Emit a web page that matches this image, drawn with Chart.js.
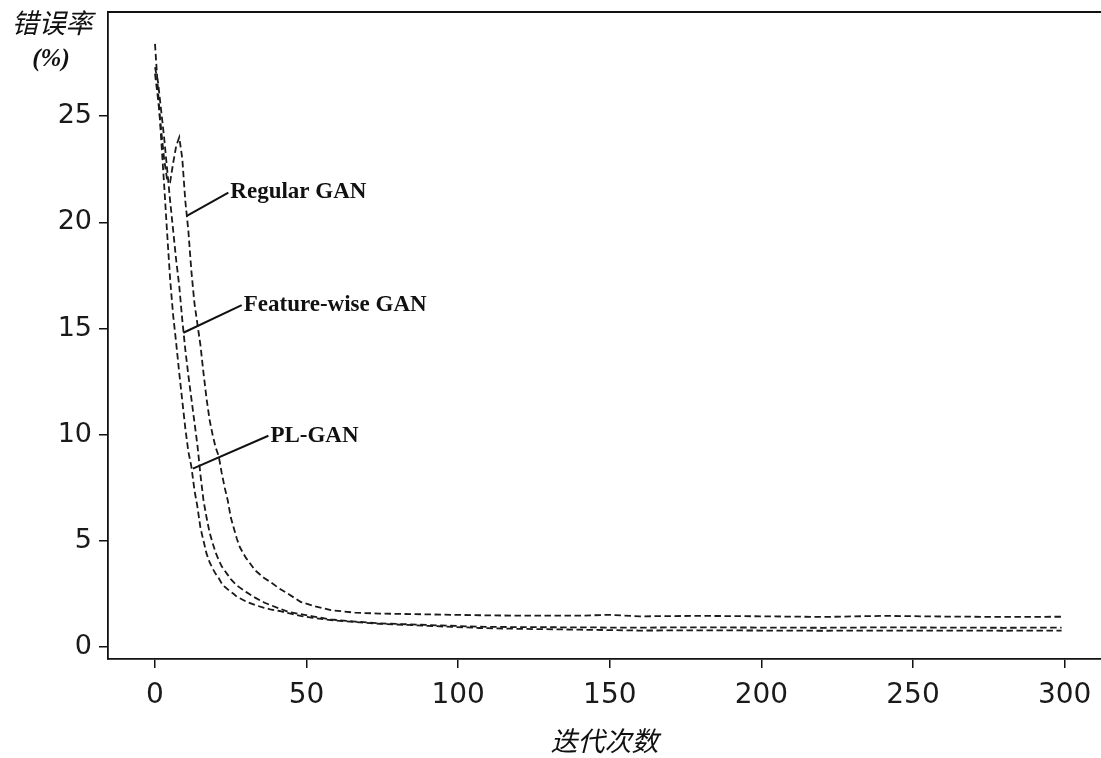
<!DOCTYPE html>
<html>
<head>
<meta charset="utf-8">
<script src="https://cdn.jsdelivr.net/npm/chart.js@4"></script>
<style>
  html, body { margin: 0; padding: 0; background: #fff; overflow: hidden; }
  canvas { display: block; }
</style>
</head>
<body>
<canvas id="chart" width="1101" height="758"></canvas>
<script>
// iterations (x) shared by all three curves
const iterations = [0,1,2,3,4,5,6,7,8,9,10,11,12,13,14,15,16,17,18,19,20,21,22,23,24,25,26,27,28,30,33,36,38,41,44,48,52,58,66,74,90,107,120,140,150,160,180,200,220,240,260,280,299];

const regularGan = [27.0,25.8,24.4,23.0,22.0,21.9,22.8,23.6,24.0,23.0,21.0,19.6,17.7,16.2,15.2,14.2,12.9,11.7,10.7,10.0,9.4,9.0,8.2,7.5,6.9,6.1,5.6,5.1,4.7,4.2,3.62,3.25,3.07,2.76,2.5,2.13,1.95,1.74,1.62,1.58,1.54,1.5,1.48,1.48,1.52,1.45,1.47,1.45,1.42,1.47,1.44,1.42,1.43];

const featureGan = [27.3,26.6,25.3,24.0,22.5,21.0,19.6,18.2,17.0,15.4,14.0,12.8,11.7,10.6,9.5,8.1,6.9,6.1,5.4,4.9,4.45,4.1,3.8,3.6,3.4,3.2,3.05,2.9,2.8,2.6,2.33,2.1,1.98,1.82,1.66,1.55,1.45,1.3,1.2,1.12,1.04,0.96,0.94,0.93,0.92,0.92,0.93,0.92,0.91,0.93,0.92,0.91,0.92];

const plGan = [28.4,26.2,24.0,21.8,19.5,17.3,15.6,14.3,12.9,11.6,10.3,9.2,8.5,7.4,6.6,5.6,5.0,4.4,4.0,3.7,3.45,3.25,3.0,2.84,2.72,2.6,2.5,2.37,2.3,2.15,1.98,1.85,1.78,1.7,1.6,1.47,1.38,1.27,1.18,1.1,1.0,0.9,0.86,0.82,0.8,0.78,0.79,0.78,0.77,0.78,0.78,0.77,0.78];

const xTicks = [0, 50, 100, 150, 200, 250, 300];
const yTicks = [0, 5, 10, 15, 20, 25];

// curve labels with leader lines, in data units
const annoLabels = ['Regular GAN', 'Feature-wise GAN', 'PL-GAN'];
const annoTextX = [24.2, 28.6, 37.4];
const annoTextY = [21.4, 16.1, 9.95];
const annoTipX = [10.5, 9.35, 12.5];
const annoTipY = [20.3, 14.8, 8.4];

const pts = vals => iterations.map((x, i) => ({ x, y: vals[i] }));

const lineStyle = {
  borderColor: '#1a1a1a',
  borderWidth: 1.8,
  borderDash: [6.5, 3.5],
  pointRadius: 0,
  fill: false,
  tension: 0
};

const extras = {
  id: 'extras',
  afterDraw(chart) {
    const { ctx, chartArea: a, scales: { x, y } } = chart;
    ctx.save();
    // top frame line
    ctx.strokeStyle = '#111';
    ctx.lineWidth = 1.8;
    ctx.beginPath();
    ctx.moveTo(a.left, a.top);
    ctx.lineTo(a.right, a.top);
    ctx.stroke();

    // leader lines + labels
    ctx.lineWidth = 2;
    ctx.fillStyle = '#111';
    ctx.font = 'bold 23px "Liberation Serif", serif';
    ctx.textBaseline = 'middle';
    ctx.textAlign = 'left';
    annoLabels.forEach((t, i) => {
      const tx = x.getPixelForValue(annoTextX[i]);
      const ty = y.getPixelForValue(annoTextY[i]);
      ctx.beginPath();
      ctx.moveTo(x.getPixelForValue(annoTipX[i]), y.getPixelForValue(annoTipY[i]));
      ctx.lineTo(tx, ty);
      ctx.stroke();
      ctx.fillText(t, tx + 2, ty);
    });

    // y axis title, horizontal above the axis
    ctx.textAlign = 'center';
    ctx.font = 'italic 27px "Noto Sans CJK SC", sans-serif';
    ctx.fillText('错误率', 52, 23);
    ctx.font = 'bold italic 25px "Liberation Serif", serif';
    ctx.fillText('(%)', 51, 60);
    ctx.restore();
  }
};

new Chart(document.getElementById('chart'), {
  type: 'line',
  data: {
    datasets: [
      { label: 'Regular GAN', data: pts(regularGan), ...lineStyle },
      { label: 'Feature-wise GAN', data: pts(featureGan), ...lineStyle },
      { label: 'PL-GAN', data: pts(plGan), ...lineStyle }
    ]
  },
  options: {
    responsive: false,
    animation: false,
    devicePixelRatio: 1,
    layout: { padding: { top: 12, left: 0, right: 0, bottom: 0 } },
    plugins: { legend: { display: false }, tooltip: { enabled: false } },
    scales: {
      x: {
        type: 'linear',
        min: -15.5,
        max: 312,
        afterBuildTicks: s => { s.ticks = xTicks.map(v => ({ value: v })); },
        afterFit: s => { s.height = 99; s.paddingLeft = 0; s.paddingRight = 0; },
        grid: { drawOnChartArea: false, tickLength: 9, color: '#111', lineWidth: 1.5 },
        border: { display: true, color: '#111', width: 1.8 },
        ticks: { color: '#1a1a1a', padding: 11, maxRotation: 0, font: { family: 'DejaVu Sans', size: 28 } },
        title: {
          display: true,
          text: '迭代次数',
          color: '#111',
          padding: { top: 0, bottom: 1 },
          font: { family: '"Noto Sans CJK SC"', size: 27, style: 'italic' }
        }
      },
      y: {
        type: 'linear',
        min: -0.56,
        max: 29.9,
        afterBuildTicks: s => { s.ticks = yTicks.map(v => ({ value: v })); },
        afterFit: s => { s.width = 108; s.paddingTop = 0; s.paddingBottom = 0; },
        grid: { drawOnChartArea: false, tickLength: 9, color: '#111', lineWidth: 1.5 },
        border: { display: true, color: '#111', width: 1.8 },
        ticks: { color: '#1a1a1a', padding: 7, font: { family: 'DejaVu Sans', size: 27 } }
      }
    }
  },
  plugins: [extras]
});
</script>
</body>
</html>
